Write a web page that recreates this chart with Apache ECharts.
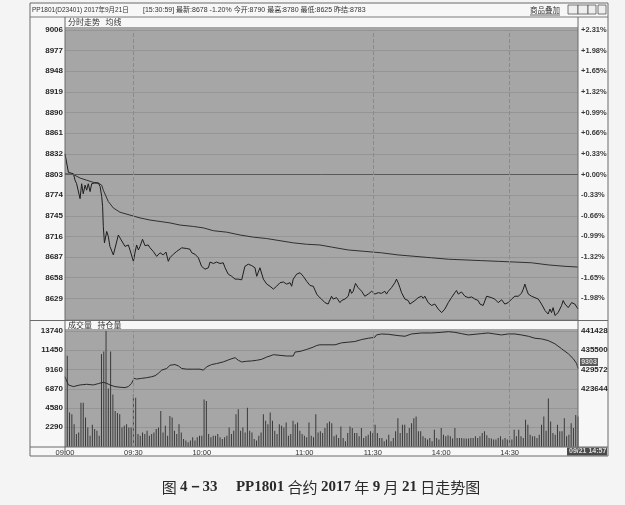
<!DOCTYPE html>
<html><head><meta charset="utf-8">
<script src="https://cdn.jsdelivr.net/npm/echarts@6/dist/echarts.min.js"></script>
<style>html,body{margin:0;padding:0;background:#f4f4f4;}#c{width:625px;height:505px;}</style>
</head><body><div id="c"></div>
<script>
// ---- data ----
const prevSettle = 8803;
const priceTicks = [9006, 8977, 8948, 8919, 8890, 8861, 8832, 8803, 8774, 8745, 8716, 8687, 8658, 8629];
const pctLabels = ['+2.31%','+1.98%','+1.65%','+1.32%','+0.99%','+0.66%','+0.33%','+0.00%','-0.33%','-0.66%','-0.99%','-1.32%','-1.65%','-1.98%'];
const volTicks = [13740, 11450, 9160, 6870, 4580, 2290];
const oiTicks = [441428, 435500, 429572, 423644];
const timeLabels = ['09:00','09:30','10:00','11:00','11:30','14:00','14:30'];
const timeIndex = [0, 30, 60, 105, 135, 165, 195]; // trading-minute index of each label
const minutesTotal = 225;

// price line: [trading minute, price]
const price = [[0,8832],[1.5,8806],[3.7,8804],[4.4,8795],[5.1,8790],[6.6,8769],[7.3,8790],[8,8776],[8.8,8788],[9.5,8781],[10.2,8790],[11,8779],[11.7,8790],[12.4,8788],[13,8791],[14.6,8791],[15.4,8786],[16.1,8772],[16.5,8758],[16.8,8730],[17.3,8707],[18.3,8723],[19,8716],[19.7,8702],[21.2,8690],[21.9,8690],[23.4,8718],[24.1,8714],[24.9,8716],[26.3,8702],[27.8,8704],[28.5,8697],[30,8681],[30.7,8693],[31.4,8704],[32.2,8697],[32.9,8702],[34,8712],[35.1,8703],[36.5,8704],[37.3,8700],[38.7,8695],[40.2,8688],[41.7,8693],[43.1,8690],[44.3,8694],[45.3,8681],[46,8686],[47.5,8691],[49,8695],[51.2,8700],[53.4,8699],[54.8,8698],[55.6,8693],[57,8691],[58.5,8686],[59.9,8674],[61.4,8670],[62.9,8672],[63.6,8680],[65.1,8678],[66.5,8680],[68,8678],[69.4,8679],[70.2,8672],[71.6,8663],[73.1,8660],[74.6,8656],[76,8656],[77.5,8655],[78.9,8674],[80.4,8677],[81.9,8675],[83.3,8672],[84.1,8660],[85.5,8672],[87,8656],[88.5,8649],[89.9,8646],[91.4,8642],[92.8,8646],[94.3,8651],[95.8,8652],[97.2,8649],[98.7,8651],[99.4,8646],[100.1,8656],[101.6,8663],[103.1,8665],[104.5,8660],[106,8653],[107.5,8647],[108.9,8646],[110.4,8635],[111.1,8632],[112.5,8628],[114,8623],[115.4,8621],[116.9,8632],[117.6,8628],[118.4,8626],[119.1,8630],[119.8,8628],[120.6,8623],[121.3,8626],[122.8,8628],[124.2,8632],[125,8642],[125.7,8636],[126.4,8639],[127.4,8650],[128.6,8644],[130.1,8639],[131.5,8632],[133,8635],[134.5,8639],[135.9,8635],[137.4,8637],[138.8,8636],[140.3,8639],[141,8635],[141.8,8639],[143.2,8644],[144.7,8651],[145.4,8656],[146.1,8651],[146.9,8644],[147.6,8637],[148.3,8636],[149.1,8628],[150.5,8626],[151.3,8621],[152,8623],[153.5,8626],[154.9,8630],[155.7,8628],[156.4,8632],[157.1,8629],[157.8,8632],[159.3,8623],[160.8,8619],[162.2,8621],[163.7,8614],[165.2,8609],[166.6,8614],[168.1,8623],[169.5,8630],[171,8637],[171.7,8640],[172.5,8635],[173.9,8638],[175.4,8632],[176.9,8630],[178.3,8631],[179.8,8628],[181.2,8626],[182,8621],[182.7,8623],[183.4,8619],[184.9,8632],[185.6,8630],[187.1,8630],[188.5,8628],[190,8623],[191.5,8627],[192.9,8621],[194.4,8623],[195.9,8628],[197.3,8632],[198.8,8632],[200.2,8636],[201,8642],[201.7,8649],[202.4,8642],[203.2,8635],[204.6,8632],[206.1,8630],[207.6,8628],[209,8621],[210.5,8612],[211.9,8607],[212.7,8614],[213.4,8609],[214.1,8616],[214.9,8605],[216.3,8609],[217.8,8619],[218.5,8626],[219.3,8621],[220.7,8616],[222.2,8623],[223.6,8621],[225,8614]];

// average price line
const avgPrice = [[0,8804],[3.7,8803],[6.6,8798],[9.5,8795],[12.4,8792],[14.6,8791],[16.1,8788],[16.8,8781],[19,8765],[21.2,8756],[24.1,8750],[28.5,8746],[32.9,8742],[37.3,8739],[41.7,8737],[46,8735],[50.4,8732],[56.3,8730],[60.7,8728],[65.1,8724],[70.9,8722],[76.8,8718],[82.6,8715],[88.5,8713],[94.3,8710],[100.1,8707],[106,8705],[111.8,8704],[117,8701],[124.2,8697],[131.5,8695],[138.8,8693],[146.1,8690],[153.5,8688],[160.8,8686],[168.1,8684],[175.4,8683],[182.7,8682],[190,8681],[197.3,8680],[204.6,8679],[211.9,8676],[219.3,8674],[225,8673]];

// open interest line
const openInterest = [[0,427347],[1.5,424815],[3.7,424309],[6.6,424815],[9.5,425017],[12.4,424815],[14.6,425220],[16.8,425625],[17.5,426030],[18.3,425321],[19.7,424815],[21.9,424309],[24.1,424106],[26.3,424004],[27.8,424309],[29.2,425321],[30.3,426841],[31.4,426638],[33.6,426841],[35.8,427043],[38,427347],[39.5,427651],[40.9,428360],[42.4,429374],[44.6,429880],[46.1,430893],[48.2,431095],[49.7,430690],[51.2,429880],[53.4,429677],[56.3,429677],[59.2,429677],[60.7,429374],[62.1,430386],[64.3,431095],[66.5,431400],[69.4,431906],[72.4,432716],[74.6,433223],[76,432412],[77.5,431906],[79.7,432108],[81.9,432210],[84.1,432412],[86.3,432716],[88.5,433425],[89.9,433729],[91.4,434134],[94.3,433932],[97.2,433729],[100.1,433729],[100.9,434945],[103.1,435147],[106,435755],[108.9,436464],[110.4,436971],[111.8,437177],[114,437173],[118.4,437173],[121.3,437781],[124.2,437984],[127.1,438186],[130.1,438794],[133,439200],[135.9,439503],[136.6,440212],[138.8,440516],[141.8,440415],[146.1,440010],[149.1,439807],[152,440516],[156.4,440820],[160.8,440820],[165.2,441023],[168.1,441225],[171,441023],[173.9,440618],[176.9,440212],[179.8,440415],[182.7,440618],[185.6,440820],[188.5,440516],[191.5,440212],[194.4,440516],[197.3,440516],[200.2,440212],[203.2,439807],[206.1,439200],[209,438997],[211.9,438490],[214.9,437477],[217.8,435958],[220.7,434438],[222.9,432919],[224.4,431400],[225,429880]];

// volume per trading minute (index 0..225)
const volume = [0,10800,4030,3840,2660,1490,1680,5210,5210,3450,2270,1290,2580,2070,1880,1290,11000,11300,13740,6900,11300,6200,4230,4000,3840,2270,2470,2660,2270,2270,6190,5800,1490,1290,1680,1490,1880,1290,1490,1680,2070,2270,4230,1680,2470,1290,3640,3450,1880,1490,2660,1680,900,700,510,700,1100,700,1100,1290,1290,5600,5400,1490,1100,1290,1290,1490,1100,900,1100,1290,2270,1490,1880,3840,4420,1880,2270,1680,4620,1880,1680,900,700,1290,1680,3840,3050,2660,4030,3050,1880,1490,2660,2470,2270,2860,1290,1490,3050,2660,2860,1880,1490,1290,1100,2860,1290,1100,3840,1680,1800,1600,2190,2780,2980,2780,1210,1410,1020,2390,1020,630,1610,2390,2190,1610,1610,1210,2190,1020,1210,1410,1800,1610,2580,1610,1020,1020,630,820,1410,630,1020,1800,3370,1610,2580,2580,1610,2190,2780,3370,3560,1800,1800,1210,1020,820,1020,630,2000,1020,820,2190,1410,1210,1330,1210,940,2190,1020,1020,1020,940,940,940,1020,1020,1210,1020,1210,1610,1800,1330,1020,940,820,820,1020,1210,820,1020,820,1210,820,2000,1210,2000,1210,1020,3170,2580,1410,1210,1210,1020,1410,2580,3560,1880,5720,2980,1610,1410,2580,1800,1800,3370,1210,1410,2780,2190,3760,3560];

const header1 = 'PP1801(D23401) 2017年9月21日';
const header2 = '[15:30:59] 最新:8678 -1.20% 今开:8790 最高:8780 最低:8625 昨结:8783';
const captionParts = [['图 ', 'c'], ['4－33', 'n'], ['　 ', 'c'], ['PP1801', 'n'], [' 合约 ', 'c'], ['2017', 'n'], [' 年 ', 'c'], ['9', 'n'], [' 月 ', 'c'], ['21', 'n'], [' 日走势图', 'c']];

// ---- chart ----
const L = 65, R = 578, W = 625;
const pTop = 30, pBot = 319, vTop = 331, vBot = 446.5;
const ink = '#262626', gridCol = '#959595', bg = '#a6a6a6';
const fontNum = 'Liberation Sans, Arial, sans-serif';
const fontCJK = 'Noto Sans CJK SC, sans-serif';
const fontMix = 'Liberation Sans, Noto Sans CJK SC, sans-serif';

const volData = volume.map((v, i) => [i, v]);
const pStep = priceTicks[0] - priceTicks[1];
const pMin = priceTicks[priceTicks.length - 1] - pStep;
const vStep = volTicks[0] - volTicks[1];
const oStep = oiTicks[0] - oiTicks[1];
const oMin = oiTicks[0] - oStep * volTicks.length;
const captionText = captionParts.map(p => '{' + p[1] + '|' + p[0] + '}').join('');

const chart = echarts.init(document.getElementById('c'), null, {renderer: 'canvas'});
chart.setOption({
  animation: false,
  backgroundColor: '#f4f4f4',
  grid: [
    {left: L, right: W - R, top: pTop, height: pBot - pTop},
    {left: L, right: W - R, top: vTop, height: vBot - vTop}
  ],
  xAxis: [
    {type: 'value', gridIndex: 0, min: 0, max: minutesTotal, interval: 15,
      axisLine: {show: false}, axisTick: {show: false}, axisLabel: {show: false}, splitLine: {show: false}},
    {type: 'value', gridIndex: 1, min: 0, max: minutesTotal, interval: 15,
      axisLine: {show: false}, axisTick: {show: false}, splitLine: {show: false},
      axisLabel: {color: '#333', fontSize: 7.5, fontFamily: fontNum, margin: 2,
        formatter: v => { const i = timeIndex.indexOf(v); return i >= 0 ? timeLabels[i] : ''; }}}
  ],
  yAxis: [
    {type: 'value', gridIndex: 0, min: pMin, max: priceTicks[0], interval: pStep, position: 'left',
      axisLine: {show: false}, axisTick: {show: false},
      splitLine: {lineStyle: {color: gridCol, width: 1}},
      axisLabel: {showMinLabel: false, color: ink, fontSize: 8, fontWeight: 'bold', fontFamily: fontNum, margin: 2,
        formatter: v => priceTicks.includes(v) ? String(v) : ''}},
    {type: 'value', gridIndex: 0, min: pMin, max: priceTicks[0], interval: pStep, position: 'right',
      axisLine: {show: false}, axisTick: {show: false}, splitLine: {show: false},
      axisLabel: {showMinLabel: false, color: '#3a3a3a', fontSize: 7.5, fontWeight: 'bold', fontFamily: fontNum, margin: 3,
        formatter: v => { const i = priceTicks.indexOf(v); return i >= 0 ? pctLabels[i] : ''; }}},
    {type: 'value', gridIndex: 1, min: 0, max: volTicks[0], interval: vStep, position: 'left',
      axisLine: {show: false}, axisTick: {show: false},
      splitLine: {lineStyle: {color: gridCol, width: 1}},
      axisLabel: {showMinLabel: false, color: ink, fontSize: 8, fontWeight: 'bold', fontFamily: fontNum, margin: 2,
        formatter: v => volTicks.includes(v) ? String(v) : ''}},
    {type: 'value', gridIndex: 1, min: oMin, max: oiTicks[0], interval: oStep, position: 'right',
      axisLine: {show: false}, axisTick: {show: false}, splitLine: {show: false},
      axisLabel: {color: ink, fontSize: 8, fontWeight: 'bold', fontFamily: fontNum, margin: 3,
        formatter: v => oiTicks.includes(v) ? String(v) : ''}}
  ],
  series: [
    {type: 'line', xAxisIndex: 0, yAxisIndex: 0, data: avgPrice, symbol: 'none',
      lineStyle: {color: '#303030', width: 1}, z: 3,
      markLine: {silent: true, symbol: 'none', label: {show: false},
        lineStyle: {color: '#5a5a5a', width: 1, type: 'solid'},
        data: [{yAxis: prevSettle}]}},
    {type: 'line', xAxisIndex: 0, yAxisIndex: 0, data: price, symbol: 'none',
      lineStyle: {color: '#1e1e1e', width: 1}, z: 4,
      markLine: {silent: true, symbol: 'none', label: {show: false},
        lineStyle: {color: '#8a8a8a', width: 1, type: 'dashed'},
        data: [{xAxis: timeIndex[1]}, {xAxis: timeIndex[4]}, {xAxis: timeIndex[6]}]}},
    {type: 'bar', xAxisIndex: 1, yAxisIndex: 2, data: volData, barWidth: 1,
      itemStyle: {color: '#3a3a3a'}, z: 3,
      markLine: {silent: true, symbol: 'none', label: {show: false},
        lineStyle: {color: '#8a8a8a', width: 1, type: 'dashed'},
        data: [{xAxis: timeIndex[1]}, {xAxis: timeIndex[4]}, {xAxis: timeIndex[6]}]}},
    {type: 'line', xAxisIndex: 1, yAxisIndex: 3, data: openInterest, symbol: 'none',
      lineStyle: {color: '#2a2a2a', width: 1}, z: 4}
  ],
  graphic: [
    {type: 'rect', z: -10, shape: {x: 30, y: 3, width: 578, height: 453}, style: {fill: '#f7f7f7', stroke: '#6a6a6a', lineWidth: 1}},
    {type: 'rect', z: -9, shape: {x: L, y: 27, width: R - L, height: pBot + 1 - 27}, style: {fill: bg}},
    {type: 'rect', z: -9, shape: {x: L, y: 329, width: R - L, height: vBot - 329}, style: {fill: bg}},
    {type: 'line', z: 5, shape: {x1: 30, y1: 17, x2: 608, y2: 17}, style: {stroke: '#7a7a7a', lineWidth: 1}},
    {type: 'line', z: 5, shape: {x1: L, y1: 17, x2: L, y2: 455}, style: {stroke: '#6a6a6a', lineWidth: 1}},
    {type: 'line', z: 5, shape: {x1: R, y1: 17, x2: R, y2: 455}, style: {stroke: '#6a6a6a', lineWidth: 1}},
    {type: 'line', z: 5, shape: {x1: 30, y1: 320.5, x2: 608, y2: 320.5}, style: {stroke: '#6a6a6a', lineWidth: 1}},
    {type: 'line', z: 5, shape: {x1: 30, y1: 447, x2: 608, y2: 447}, style: {stroke: '#6a6a6a', lineWidth: 1}},
    {type: 'text', z: 6, style: {x: 32, y: 10, text: header1, font: '6.5px ' + fontMix, fill: '#333', verticalAlign: 'middle'}},
    {type: 'text', z: 6, style: {x: 143, y: 10, text: header2, font: '7px ' + fontMix, fill: '#333', verticalAlign: 'middle'}},
    {type: 'text', z: 6, style: {x: 530, y: 10, text: '商品叠加', font: '7.5px ' + fontCJK, fill: '#333', verticalAlign: 'middle'}},
    {type: 'line', z: 6, shape: {x1: 530, y1: 15, x2: 560, y2: 15}, style: {stroke: '#444', lineWidth: 0.8}},
    {type: 'rect', z: 6, shape: {x: 568, y: 5, width: 10, height: 9}, style: {fill: '#eee', stroke: '#555', lineWidth: 0.8}},
    {type: 'rect', z: 6, shape: {x: 578, y: 5, width: 10, height: 9}, style: {fill: '#eee', stroke: '#555', lineWidth: 0.8}},
    {type: 'rect', z: 6, shape: {x: 588, y: 5, width: 8, height: 9}, style: {fill: '#eee', stroke: '#555', lineWidth: 0.8}},
    {type: 'rect', z: 6, shape: {x: 598, y: 5, width: 8, height: 9}, style: {fill: '#eee', stroke: '#555', lineWidth: 0.8}},
    {type: 'text', z: 6, style: {x: 68, y: 22, text: '分时走势   均线', font: '8px ' + fontCJK, fill: '#333', verticalAlign: 'middle'}},
    {type: 'text', z: 6, style: {x: 68, y: 325, text: '成交量   持仓量', font: '8px ' + fontCJK, fill: '#333', verticalAlign: 'middle'}},
    {type: 'rect', z: 6, shape: {x: 580, y: 358, width: 18, height: 8}, style: {fill: '#5a5a5a'}},
    {type: 'text', z: 7, style: {x: 589, y: 362, text: '9303', font: 'bold 7px ' + fontNum, fill: '#d8d8d8', align: 'center', verticalAlign: 'middle'}},
    {type: 'rect', z: 6, shape: {x: 567, y: 447.5, width: 40, height: 8}, style: {fill: '#4a4a4a'}},
    {type: 'text', z: 7, style: {x: 569, y: 451.5, text: '09/21 14:57', font: 'bold 7px ' + fontNum, fill: '#dcdcdc', verticalAlign: 'middle'}},
    {type: 'text', z: 6, style: {x: 321, y: 487, text: captionText, align: 'center', verticalAlign: 'middle',
      rich: {
        n: {fontFamily: 'Liberation Serif, serif', fontWeight: 'bold', fontSize: 15, fill: '#2a2a2a'},
        c: {fontFamily: fontCJK, fontWeight: 'normal', fontSize: 15, fill: '#2a2a2a'}
      }}}
  ]
});
</script></body></html>
